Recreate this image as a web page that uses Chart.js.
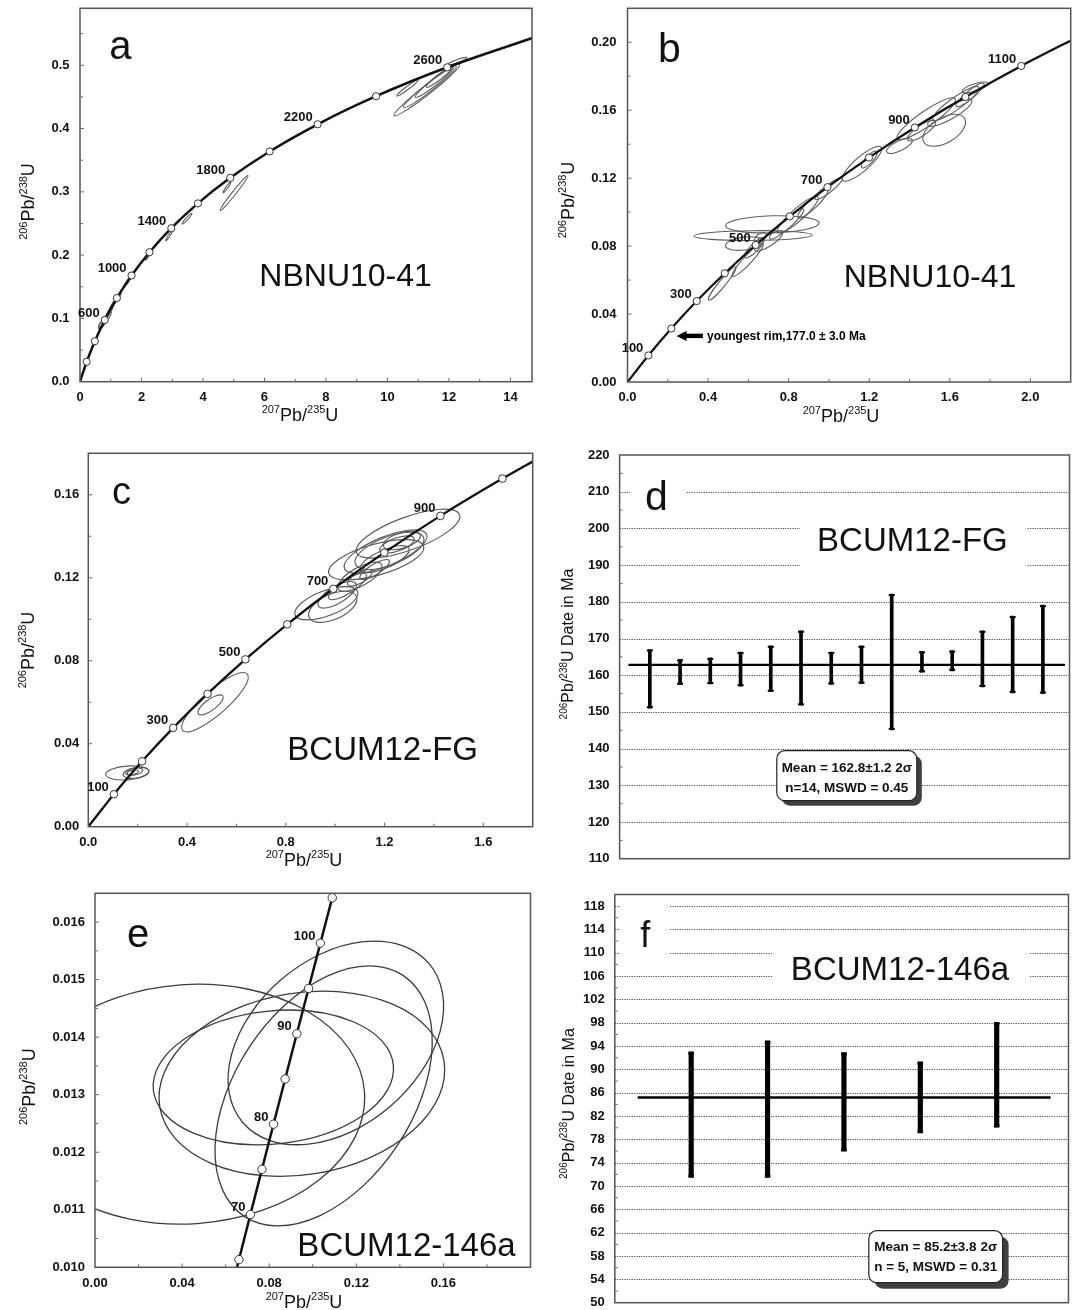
<!DOCTYPE html>
<html><head><meta charset="utf-8">
<script src="https://cdn.jsdelivr.net/npm/chart.js@4.4.1/dist/chart.umd.min.js"></script>
<style>
html,body{margin:0;padding:0;background:#fff;}
body{width:1076px;height:1310px;position:relative;overflow:hidden;}
canvas{position:absolute;}
</style></head><body>
<canvas id="ca"></canvas><canvas id="cb"></canvas><canvas id="cc"></canvas>
<canvas id="cd"></canvas><canvas id="ce"></canvas><canvas id="cf"></canvas>
<script>
// ================= DATA =================
// Panel a : NBNU10-41 concordia (marker ages in Ma and their 207Pb/235U, 206Pb/238U ratios)
const aAges  = [200,400,600,800,1000,1200,1400,1600,1800,2000,2200,2400,2600];
const aMarkX = [0.2177,0.4828,0.8056,1.1987,1.6774,2.2603,2.9701,3.8344,4.8869,6.1685,7.7291,9.6296,11.9437];
const aMarkY = [0.03151,0.06402,0.09754,0.13213,0.16780,0.20460,0.24256,0.28172,0.32211,0.36377,0.40674,0.45107,0.49679];
const aCurveX = [0].concat(aMarkX, [14.7617]);
const aCurveY = [0].concat(aMarkY, [0.54396]);
const aLabelAges = [600,1000,1400,1800,2200,2600];
// error ellipses: [x, y, half-width x, half-width y, correlation]
const aEllipses = [
 [11.28,0.461,1.07,0.041,0.975],[11.38,0.466,0.86,0.033,0.97],[11.52,0.473,0.62,0.024,0.96],
 [11.70,0.482,0.44,0.017,0.95],[12.27,0.5064,0.32,0.0061,0.9],[10.65,0.464,0.35,0.0127,0.97],
 [5.01,0.298,0.455,0.0277,0.985],[4.78,0.307,0.13,0.0087,0.95],[3.48,0.2576,0.16,0.0085,0.95],
 [2.90,0.231,0.115,0.0085,0.95],[2.22,0.199,0.09,0.007,0.95],[1.55,0.158,0.12,0.008,0.95],
 [1.10,0.124,0.14,0.010,0.95],[1.25,0.134,0.09,0.007,0.9],[0.75,0.093,0.15,0.009,0.8],
 [0.82,0.098,0.20,0.012,0.9],[0.70,0.090,0.10,0.006,0.7],[0.95,0.110,0.12,0.009,0.9]
];
const aTicksX = [0,2,4,6,8,10,12,14];
const aTicksY = [0.0,0.1,0.2,0.3,0.4,0.5];

// Panel b : NBNU10-41 (enlarged)
const bAges  = [100,200,300,400,500,600,700,800,900,1000,1100];
const bMarkX = [0.1035,0.2177,0.3437,0.4828,0.6363,0.8056,0.9925,1.1987,1.4263,1.6774,1.9545];
const bMarkY = [0.01563,0.03151,0.04764,0.06402,0.08065,0.09754,0.11470,0.13213,0.14983,0.16780,0.18606];
const bCurveX = [0].concat(bMarkX, [2.2603]);
const bCurveY = [0].concat(bMarkY, [0.20460]);
const bLabelAges = [100,300,500,700,900,1100];
const bEllipses = [
 [0.623,0.0862,0.294,0.0029,0.1],[0.719,0.0928,0.232,0.0051,0.15],[0.580,0.0815,0.094,0.0040,0.3],
 [0.470,0.0580,0.068,0.0098,0.95],[0.597,0.0720,0.077,0.0098,0.93],[0.845,0.0985,0.102,0.0108,0.9],
 [0.790,0.0930,0.085,0.0090,0.92],[0.998,0.1138,0.068,0.0064,0.9],[0.920,0.1050,0.075,0.0085,0.9],
 [1.164,0.1285,0.098,0.0103,0.85],[1.200,0.1310,0.040,0.0050,0.8],[1.350,0.1390,0.064,0.0045,0.7],
 [1.483,0.1550,0.145,0.0123,0.9],[1.572,0.1482,0.106,0.0094,0.5],[1.600,0.1585,0.110,0.0080,0.85],
 [1.630,0.1640,0.115,0.0100,0.9],[1.725,0.1734,0.064,0.0032,0.7],[1.700,0.1690,0.070,0.0070,0.9],
 [1.460,0.1480,0.070,0.0060,0.8],[0.630,0.0790,0.050,0.0060,0.85],[0.700,0.0830,0.070,0.0060,0.8],
 [0.660,0.0850,0.030,0.0030,0.5]
];
const bTicksX = [0.0,0.4,0.8,1.2,1.6,2.0];
const bTicksY = [0.00,0.04,0.08,0.12,0.16,0.20];
const bRimAge = 200;
const bRimText = "youngest rim,177.0 \u00b1 3.0 Ma";

// Panel c : BCUM12-FG concordia
const cAges  = [100,200,300,400,500,600,700,800,900,1000];
const cMarkX = [0.1035,0.2177,0.3437,0.4828,0.6363,0.8056,0.9925,1.1987,1.4263,1.6774];
const cMarkY = [0.01563,0.03151,0.04764,0.06402,0.08065,0.09754,0.11470,0.13213,0.14983,0.16780];
const cCurveX = [0].concat(cMarkX, [1.8126]);
const cCurveY = [0].concat(cMarkY, [0.17690]);
const cLabelAges = [100,300,500,700,900];
const cEllipses = [
 [0.158,0.0259,0.0875,0.0034,0.2],[0.193,0.0260,0.052,0.0027,0.3],[0.186,0.0265,0.035,0.0018,0.4],
 [0.180,0.0262,0.022,0.0012,0.4],[0.513,0.0600,0.135,0.0143,0.85],[0.495,0.0587,0.051,0.0048,0.75],
 [0.964,0.1077,0.128,0.0080,0.6],[0.990,0.1060,0.098,0.0075,0.5],[1.008,0.1118,0.078,0.0064,0.7],
 [1.050,0.1158,0.077,0.0064,0.8],[1.166,0.1287,0.193,0.0097,0.6],[1.204,0.1327,0.168,0.0104,0.7],
 [1.295,0.1413,0.210,0.0118,0.7],[1.220,0.1330,0.140,0.0090,0.6],[1.200,0.1290,0.100,0.0065,0.7],
 [1.160,0.1240,0.060,0.0048,0.8],[1.250,0.1360,0.070,0.0042,0.6],[1.270,0.1380,0.075,0.0045,0.5],
 [1.100,0.1205,0.090,0.0070,0.7],[1.100,0.1200,0.050,0.0040,0.7]
];
const cTicksX = [0.0,0.4,0.8,1.2,1.6];
const cTicksY = [0.00,0.04,0.08,0.12,0.16];

// Panel d : BCUM12-FG 206Pb/238U dates (Ma), 2-sigma ranges
const dLow  = [151.0,157.4,157.6,157.0,155.5,151.8,157.5,157.7,145.1,160.8,161.2,156.8,155.2,155.0];
const dHigh = [167.0,164.3,164.7,166.3,168.0,172.1,166.3,168.0,182.1,166.5,166.7,172.1,176.1,179.1];
const dMean = 162.8, dMeanErr = 1.2, dMSWD = 0.45;
const dTicksY = [110,120,130,140,150,160,170,180,190,200,210,220];

// Panel e : BCUM12-146a concordia
const eAges  = [65,70,75,80,85,90,95,100,105];
const eMarkX = [0.06611,0.07137,0.07666,0.08198,0.08732,0.09268,0.09808,0.10350,0.10895];
const eMarkY = [0.010134,0.010918,0.011702,0.012487,0.013273,0.014059,0.014846,0.015633,0.016422];
const eCurveX = [0.06087].concat(eMarkX, [0.11442]);
const eCurveY = [0.009351].concat(eMarkY, [0.017210]);
const eLabelAges = [70,80,90,100];
const eEllipses = [
 [0.0819,0.01330,0.0552,0.00117,0.13],[0.0950,0.01319,0.0656,0.00161,0.15],
 [0.1050,0.01298,0.0499,0.00226,0.42],[0.1106,0.01390,0.0495,0.00177,0.36],
 [0.04325,0.012835,0.0806,0.002085,0.054]
];
const eTicksX = [0.00,0.04,0.08,0.12,0.16];
const eTicksY = [0.010,0.011,0.012,0.013,0.014,0.015,0.016];

// Panel f : BCUM12-146a 206Pb/238U dates (Ma)
const fLow  = [71.5,71.5,76.0,79.1,80.1];
const fHigh = [93.0,94.9,92.9,91.3,98.1];
const fMean = 85.2, fMeanErr = 3.8, fMSWD = 0.31;
const fTicksY = [50,54,58,62,66,70,74,78,82,86,90,94,98,102,106,110,114,118];

// ================= RENDERING =================
const FONT = '"Liberation Sans", Arial, Helvetica, sans-serif';
const CFG = {};
const PB = [['207',1],['Pb',0],['/',0],['235',1],['U',0]];
const PBY = [['206',1],['Pb',0],['/',0],['238',1],['U',0]];
const PBD = [['206',1],['Pb',0],['/',0],['238',1],['U Date in Ma',0]];

function drawEllipse(ctx, xs, ys, e) {
  const [cx, cy, sx, sy, rho] = e;
  const X = xs.getPixelForValue(cx), Y = ys.getPixelForValue(cy);
  const a = Math.abs(xs.getPixelForValue(cx + sx) - X);
  const b = Math.abs(ys.getPixelForValue(cy + sy) - Y);
  const A = a*a, B = b*b, c = -rho*a*b;
  const m = (A + B)/2, d = Math.sqrt(((A - B)/2)**2 + c*c);
  const l1 = m + d, l2 = Math.max(m - d, 0.04);
  const th = 0.5*Math.atan2(2*c, A - B);
  ctx.beginPath(); ctx.ellipse(X, Y, Math.sqrt(l1), Math.sqrt(l2), th, 0, 2*Math.PI); ctx.stroke();
}
function supText(ctx, parts, x, y, rot, big, small) {
  ctx.save(); ctx.translate(x, y); if (rot) ctx.rotate(-Math.PI/2);
  ctx.fillStyle = '#111'; ctx.textBaseline = 'alphabetic'; ctx.textAlign = 'left';
  let w = 0;
  const ws = parts.map(p => { ctx.font = (p[1] ? small : big) + 'px ' + FONT; const m = ctx.measureText(p[0]).width; w += m; return m; });
  let px = -w/2;
  parts.forEach((p, i) => { ctx.font = (p[1] ? small : big) + 'px ' + FONT; ctx.fillText(p[0], px, p[1] ? -big*0.42 : 0); px += ws[i]; });
  ctx.restore();
}
function roundRect(ctx, x, y, w, h, r) {
  ctx.beginPath(); ctx.moveTo(x + r, y); ctx.arcTo(x + w, y, x + w, y + h, r); ctx.arcTo(x + w, y + h, x, y + h, r);
  ctx.arcTo(x, y + h, x, y, r); ctx.arcTo(x, y, x + w, y, r); ctx.closePath();
}
function minorVals(min, max, step) {
  const out = []; let k = Math.ceil(min/step - 1e-6);
  for (; ; k++) { const v = k*step; if (v > max + step*1e-6) break; out.push(v); }
  return out;
}

const figPlugin = {
  id: 'fig',
  beforeDatasetsDraw(chart) {
    const c = CFG[chart.canvas.id]; if (!c) return;
    const ctx = chart.ctx, A = chart.chartArea, xs = chart.scales.x, ys = chart.scales.y;
    ctx.save();
    if (c.grid) {
      ctx.strokeStyle = '#4a4a4a'; ctx.lineWidth = 1; ctx.setLineDash([1.2, 1.2]);
      c.ticksY.forEach(v => {
        const y = Math.round(ys.getPixelForValue(v)) + 0.5;
        if (y <= A.top + 2 || y >= A.bottom - 2) return;
        ctx.beginPath(); ctx.moveTo(A.left, y); ctx.lineTo(A.right, y); ctx.stroke();
      });
      ctx.setLineDash([]);
    }
    (c.whiteBoxes || []).forEach(b => { ctx.fillStyle = '#fff'; ctx.fillRect(b[0] - c.ox, b[1] - c.oy, b[2] - b[0], b[3] - b[1]); });
    if (c.ellipses) {
      ctx.beginPath(); ctx.rect(A.left, A.top, A.right - A.left, A.bottom - A.top); ctx.clip();
      ctx.strokeStyle = c.ellColor; ctx.lineWidth = c.ellWidth;
      c.ellipses.forEach(e => drawEllipse(ctx, xs, ys, e));
    }
    ctx.restore();
  },
  afterDatasetsDraw(chart) {
    const c = CFG[chart.canvas.id]; if (!c) return;
    const ctx = chart.ctx, A = chart.chartArea, xs = chart.scales.x, ys = chart.scales.y;
    const ox = c.ox, oy = c.oy;
    ctx.save();
    // frame
    ctx.strokeStyle = c.frameColor || '#555'; ctx.lineWidth = 1.5;
    ctx.strokeRect(A.left, A.top, A.right - A.left, A.bottom - A.top);
    // tick marks (inside)
    ctx.strokeStyle = '#6a6a6a'; ctx.lineWidth = 1;
    const isMajor = (arr, v, step) => arr.some(t => Math.abs(t - v) < step*1e-3);
    if (c.minorX) {
      minorVals(xs.min, xs.max, c.minorX).forEach(v => {
        const x = xs.getPixelForValue(v);
        if (x <= A.left + 1 || x >= A.right - 1) return;
        const len = isMajor(c.ticksX, v, c.minorX) ? 4 : 3;
        ctx.beginPath(); ctx.moveTo(x, A.bottom); ctx.lineTo(x, A.bottom - len); ctx.stroke();
      });
    }
    if (c.minorY) {
      minorVals(ys.min, ys.max, c.minorY).forEach(v => {
        const y = ys.getPixelForValue(v);
        if (y <= A.top + 1 || y >= A.bottom - 1) return;
        const maj = isMajor(c.ticksY, v, c.minorY);
        if (maj && c.grid) return;
        const len = maj ? 4 : 3;
        ctx.beginPath(); ctx.moveTo(A.left, y); ctx.lineTo(A.left + len, y); ctx.stroke();
      });
    }
    // error bar caps
    if (c.caps) {
      const meta = chart.getDatasetMeta(0);
      ctx.fillStyle = '#000';
      meta.data.forEach(el => {
        const t = Math.min(el.y, el.base), b = Math.max(el.y, el.base);
        ctx.fillRect(el.x - c.capW/2, t, c.capW, c.capH);
        ctx.fillRect(el.x - c.capW/2, b - c.capH, c.capW, c.capH);
      });
    }
    // concordia age labels
    if (c.conc) {
      const k = c.conc;
      ctx.font = 'bold 13px ' + FONT; ctx.fillStyle = '#111'; ctx.textAlign = 'right'; ctx.textBaseline = 'middle';
      k.labelAges.forEach(age => {
        const i = k.ages.indexOf(age);
        const px = xs.getPixelForValue(k.markX[i]), py = ys.getPixelForValue(k.markY[i]);
        ctx.fillText(String(age), px - 5, py - 7);
      });
      if (c.arrow) {
        const i = k.ages.indexOf(c.arrow.age);
        const px = xs.getPixelForValue(k.markX[i]) + c.arrow.dx, py = ys.getPixelForValue(k.markY[i]) + c.arrow.dy;
        ctx.fillStyle = '#000';
        ctx.beginPath(); ctx.moveTo(px, py); ctx.lineTo(px + 10, py - 5); ctx.lineTo(px + 10, py + 5); ctx.closePath(); ctx.fill();
        ctx.fillRect(px + 9, py - 2.2, c.arrow.len - 9, 4.4);
        ctx.font = 'bold 12px ' + FONT; ctx.textAlign = 'left'; ctx.textBaseline = 'middle';
        ctx.fillText(c.arrow.text, px + c.arrow.len + 4, py + 0.5);
      }
    }
    // mean box
    if (c.meanBox) {
      const m = c.meanBox;
      ctx.fillStyle = '#404040'; roundRect(ctx, m.x - ox + m.sh, m.y - oy + m.sh, m.w, m.h, m.r); ctx.fill();
      ctx.fillStyle = '#fff'; roundRect(ctx, m.x - ox, m.y - oy, m.w, m.h, m.r); ctx.fill();
      ctx.strokeStyle = '#222'; ctx.lineWidth = 1.2; ctx.stroke();
      ctx.fillStyle = '#111'; ctx.font = 'bold 13.5px ' + FONT; ctx.textAlign = 'center'; ctx.textBaseline = 'middle';
      m.lines.forEach((t, i) => ctx.fillText(t, m.cx - ox, m.ly[i] - oy));
    }
    // panel letter and sample name
    ctx.fillStyle = '#111'; ctx.textAlign = 'center'; ctx.textBaseline = 'alphabetic';
    if (c.letter) { ctx.font = c.letter.size + 'px ' + FONT; ctx.fillText(c.letter.t, c.letter.x - ox, c.letter.y - oy); }
    if (c.name) { ctx.font = c.name.size + 'px ' + FONT; ctx.fillText(c.name.t, c.name.x - ox, c.name.y - oy); }
    // axis titles
    if (c.xTitle) supText(ctx, c.xTitle.parts, c.xTitle.x - ox, c.xTitle.y - oy, false, c.xTitle.big, c.xTitle.small);
    if (c.yTitle) supText(ctx, c.yTitle.parts, c.yTitle.x - ox, c.yTitle.y - oy, true, c.yTitle.big, c.yTitle.small);
    ctx.restore();
  }
};
Chart.register(figPlugin);

function zeroPad(s) { s.paddingTop = 0; s.paddingBottom = 0; s.paddingLeft = 0; s.paddingRight = 0; }
function makeChart(id, box, area, config, cfg) {
  const cv = document.getElementById(id);
  cv.width = box.w; cv.height = box.h;
  cv.style.left = box.x + 'px'; cv.style.top = box.y + 'px';
  cv.style.width = box.w + 'px'; cv.style.height = box.h + 'px';
  cfg.ox = box.x; cfg.oy = box.y; CFG[id] = cfg;
  const xH = box.y + box.h - area.b, yW = area.l - box.x;
  const opts = config.options;
  opts.responsive = false; opts.maintainAspectRatio = false; opts.animation = false;
  opts.devicePixelRatio = 1; opts.events = [];
  opts.layout = { padding: { top: area.t - box.y, right: box.x + box.w - area.r, left: 0, bottom: 0 }, autoPadding: false };
  opts.plugins = { legend: { display: false }, tooltip: { enabled: false }, title: { display: false } };
  opts.scales.x.afterFit = s => { s.height = xH; zeroPad(s); };
  opts.scales.y.afterFit = s => { s.width = yW; zeroPad(s); };
  return new Chart(cv, config);
}
const tickFont = { family: FONT, size: 13, weight: 'bold' };

function concordia(id, box, area, d, st) {
  const curve = d.curveX.map((x, i) => ({ x, y: d.curveY[i] }));
  const marks = d.markX.map((x, i) => ({ x, y: d.markY[i] }));
  st.conc = { ages: d.ages, labelAges: d.labelAges, markX: d.markX, markY: d.markY };
  st.ellipses = d.ellipses; st.ticksX = d.ticksX; st.ticksY = d.ticksY;
  return makeChart(id, box, area, {
    type: 'scatter',
    data: { datasets: [
      { data: curve, showLine: true, borderColor: '#111', borderWidth: st.lw, pointRadius: 0, pointHoverRadius: 0,
        cubicInterpolationMode: 'monotone', clip: 0, order: 2 },
      { data: marks, showLine: false, pointRadius: st.pr, pointHoverRadius: st.pr, pointBackgroundColor: '#fff',
        pointBorderColor: '#333', pointBorderWidth: 1, clip: 0, order: 1 }
    ] },
    options: { scales: {
      x: { type: 'linear', min: d.xMin, max: d.xMax, grid: { display: false, drawTicks: false }, border: { display: false },
           ticks: { font: tickFont, color: '#111', padding: 8, maxRotation: 0, minRotation: 0, autoSkip: false,
                    callback: v => Number(v).toFixed(st.decX) },
           afterBuildTicks: s => { s.ticks = d.ticksX.map(v => ({ value: v })); } },
      y: { type: 'linear', min: d.yMin, max: d.yMax, grid: { display: false, drawTicks: false }, border: { display: false },
           ticks: { font: tickFont, color: '#111', padding: st.padY, autoSkip: false,
                    callback: v => Number(v).toFixed(st.decY) },
           afterBuildTicks: s => { s.ticks = d.ticksY.map(v => ({ value: v })); } }
    } }
  }, st);
}

function dates(id, box, area, d, st) {
  const bars = d.low.map((lo, i) => ({ x: i + 1, y: [lo, d.high[i]] }));
  st.ticksY = d.ticksY; st.grid = true; st.caps = true;
  return makeChart(id, box, area, {
    type: 'bar',
    data: { datasets: [
      { type: 'bar', data: bars, backgroundColor: '#000', borderWidth: 0, barThickness: st.barW, order: 2 },
      { type: 'line', data: [{ x: st.meanFrom, y: d.mean }, { x: st.meanTo, y: d.mean }], borderColor: '#000',
        borderWidth: st.meanW, pointRadius: 0, order: 1, clip: 0 }
    ] },
    options: { scales: {
      x: { type: 'linear', min: 0, max: st.xMax, offset: false, grid: { display: false, drawTicks: false },
           border: { display: false }, ticks: { display: false } },
      y: { type: 'linear', min: d.yMin, max: d.yMax, grid: { display: false, drawTicks: false }, border: { display: false },
           ticks: { font: tickFont, color: '#111', padding: 10, autoSkip: false, callback: v => String(v) },
           afterBuildTicks: s => { s.ticks = d.ticksY.map(v => ({ value: v })); } }
    } }
  }, st);
}

// ---- panel a
concordia('ca', { x: 0, y: 0, w: 540, h: 432 }, { l: 80, t: 8.3, r: 532, b: 381.7 },
  { ages: aAges, markX: aMarkX, markY: aMarkY, curveX: aCurveX, curveY: aCurveY, labelAges: aLabelAges,
    ellipses: aEllipses, ticksX: aTicksX, ticksY: aTicksY, xMin: 0, xMax: 14.7, yMin: 0, yMax: 0.59 },
  { lw: 2.5, pr: 3.6, decX: 0, decY: 1, padY: 10.5, minorX: 1, minorY: 0.05, ellColor: '#5e5e5e', ellWidth: 1.1,
    letter: { t: 'a', x: 120.3, y: 59.3, size: 40 }, name: { t: 'NBNU10-41', x: 345.6, y: 286, size: 32 },
    xTitle: { parts: PB, x: 300, y: 421, big: 18, small: 11 }, yTitle: { parts: PBY, x: 34.3, y: 201.5, big: 18, small: 11 } });

// ---- panel b
concordia('cb', { x: 540, y: 0, w: 536, h: 432 }, { l: 627.5, t: 8.3, r: 1070.7, b: 382 },
  { ages: bAges, markX: bMarkX, markY: bMarkY, curveX: bCurveX, curveY: bCurveY, labelAges: bLabelAges,
    ellipses: bEllipses, ticksX: bTicksX, ticksY: bTicksY, xMin: 0, xMax: 2.2, yMin: 0, yMax: 0.22 },
  { lw: 2.2, pr: 3.6, decX: 1, decY: 2, padY: 11, minorX: 0.2, minorY: 0.02, ellColor: '#5e5e5e', ellWidth: 1.1,
    letter: { t: 'b', x: 669.5, y: 61.7, size: 41 }, name: { t: 'NBNU10-41', x: 930, y: 287, size: 32 },
    arrow: { age: bRimAge, dx: 5.2, dy: 7.4, len: 26.4, text: bRimText },
    xTitle: { parts: PB, x: 841, y: 421.5, big: 18, small: 11 }, yTitle: { parts: PBY, x: 574, y: 200, big: 18, small: 11 } });

// ---- panel c
concordia('cc', { x: 0, y: 432, w: 540, h: 442 }, { l: 88.3, t: 453.3, r: 532.7, b: 826.7 },
  { ages: cAges, markX: cMarkX, markY: cMarkY, curveX: cCurveX, curveY: cCurveY, labelAges: cLabelAges,
    ellipses: cEllipses, ticksX: cTicksX, ticksY: cTicksY, xMin: 0, xMax: 1.8, yMin: 0, yMax: 0.18 },
  { lw: 2.3, pr: 3.8, decX: 1, decY: 2, padY: 9, minorX: 0.2, minorY: 0.02, ellColor: '#5a5a5a', ellWidth: 1.15,
    letter: { t: 'c', x: 121.5, y: 504, size: 38 }, name: { t: 'BCUM12-FG', x: 382.7, y: 760, size: 33 },
    xTitle: { parts: PB, x: 304, y: 866, big: 18, small: 11 }, yTitle: { parts: PBY, x: 33.5, y: 650, big: 18, small: 11 } });

// ---- panel d
dates('cd', { x: 540, y: 432, w: 536, h: 442 }, { l: 619.6, t: 455, r: 1069.5, b: 858.7 },
  { low: dLow, high: dHigh, mean: dMean, ticksY: dTicksY, yMin: 110, yMax: 220 },
  { xMax: 14.88, meanFrom: 0.29, meanTo: 14.73, barW: 3, capW: 6, capH: 2, meanW: 2.2, minorY: 5, frameColor: '#555',
    whiteBoxes: [[630, 476, 686, 514], [800, 514, 1027, 578]],
    meanBox: { x: 776.8, y: 750.7, w: 140, h: 50, r: 8, sh: 5, cx: 846.8, ly: [768.3, 788.3],
               lines: ['Mean = ' + dMean.toFixed(1) + '\u00b1' + dMeanErr.toFixed(1) + ' 2\u03c3', 'n=' + dLow.length + ', MSWD = ' + dMSWD.toFixed(2)] },
    letter: { t: 'd', x: 656.4, y: 510, size: 41 }, name: { t: 'BCUM12-FG', x: 912.4, y: 550.7, size: 33 },
    yTitle: { parts: PBD, x: 573.4, y: 644, big: 16, small: 10 } });

// ---- panel e
concordia('ce', { x: 0, y: 874, w: 540, h: 436 }, { l: 95, t: 893.3, r: 530.5, b: 1267.3 },
  { ages: eAges, markX: eMarkX, markY: eMarkY, curveX: eCurveX, curveY: eCurveY, labelAges: eLabelAges,
    ellipses: eEllipses, ticksX: eTicksX, ticksY: eTicksY, xMin: 0, xMax: 0.2, yMin: 0.010, yMax: 0.0165 },
  { lw: 2.5, pr: 4.2, decX: 2, decY: 3, padY: 10, minorX: 0.02, minorY: 0.0005, ellColor: '#3c3c3c', ellWidth: 1.3,
    letter: { t: 'e', x: 138.2, y: 947.3, size: 40 }, name: { t: 'BCUM12-146a', x: 406.5, y: 1256, size: 33 },
    xTitle: { parts: PB, x: 304, y: 1308, big: 18, small: 11 }, yTitle: { parts: PBY, x: 34.6, y: 1086.7, big: 18, small: 11 } });

// ---- panel f
dates('cf', { x: 540, y: 874, w: 536, h: 436 }, { l: 614.8, t: 894.5, r: 1068.5, b: 1302.7 },
  { low: fLow, high: fHigh, mean: fMean, ticksY: fTicksY, yMin: 50, yMax: 120 },
  { xMax: 5.94, meanFrom: 0.30, meanTo: 5.705, barW: 4.5, capW: 5.5, capH: 3, meanW: 2.6, minorY: 2, frameColor: '#555',
    whiteBoxes: [[620, 899, 669, 960], [773, 945, 1029, 986]],
    meanBox: { x: 868.8, y: 1230.7, w: 133.8, h: 52, r: 8, sh: 6, cx: 935.7, ly: [1247.7, 1267.3],
               lines: ['Mean = ' + fMean.toFixed(1) + '\u00b1' + fMeanErr.toFixed(1) + ' 2\u03c3', 'n = ' + fLow.length + ', MSWD = ' + fMSWD.toFixed(2)] },
    letter: { t: 'f', x: 645.2, y: 947.3, size: 36 }, name: { t: 'BCUM12-146a', x: 900, y: 980, size: 33 },
    yTitle: { parts: PBD, x: 573.6, y: 1103.6, big: 16, small: 10 } });
</script>
</body></html>
